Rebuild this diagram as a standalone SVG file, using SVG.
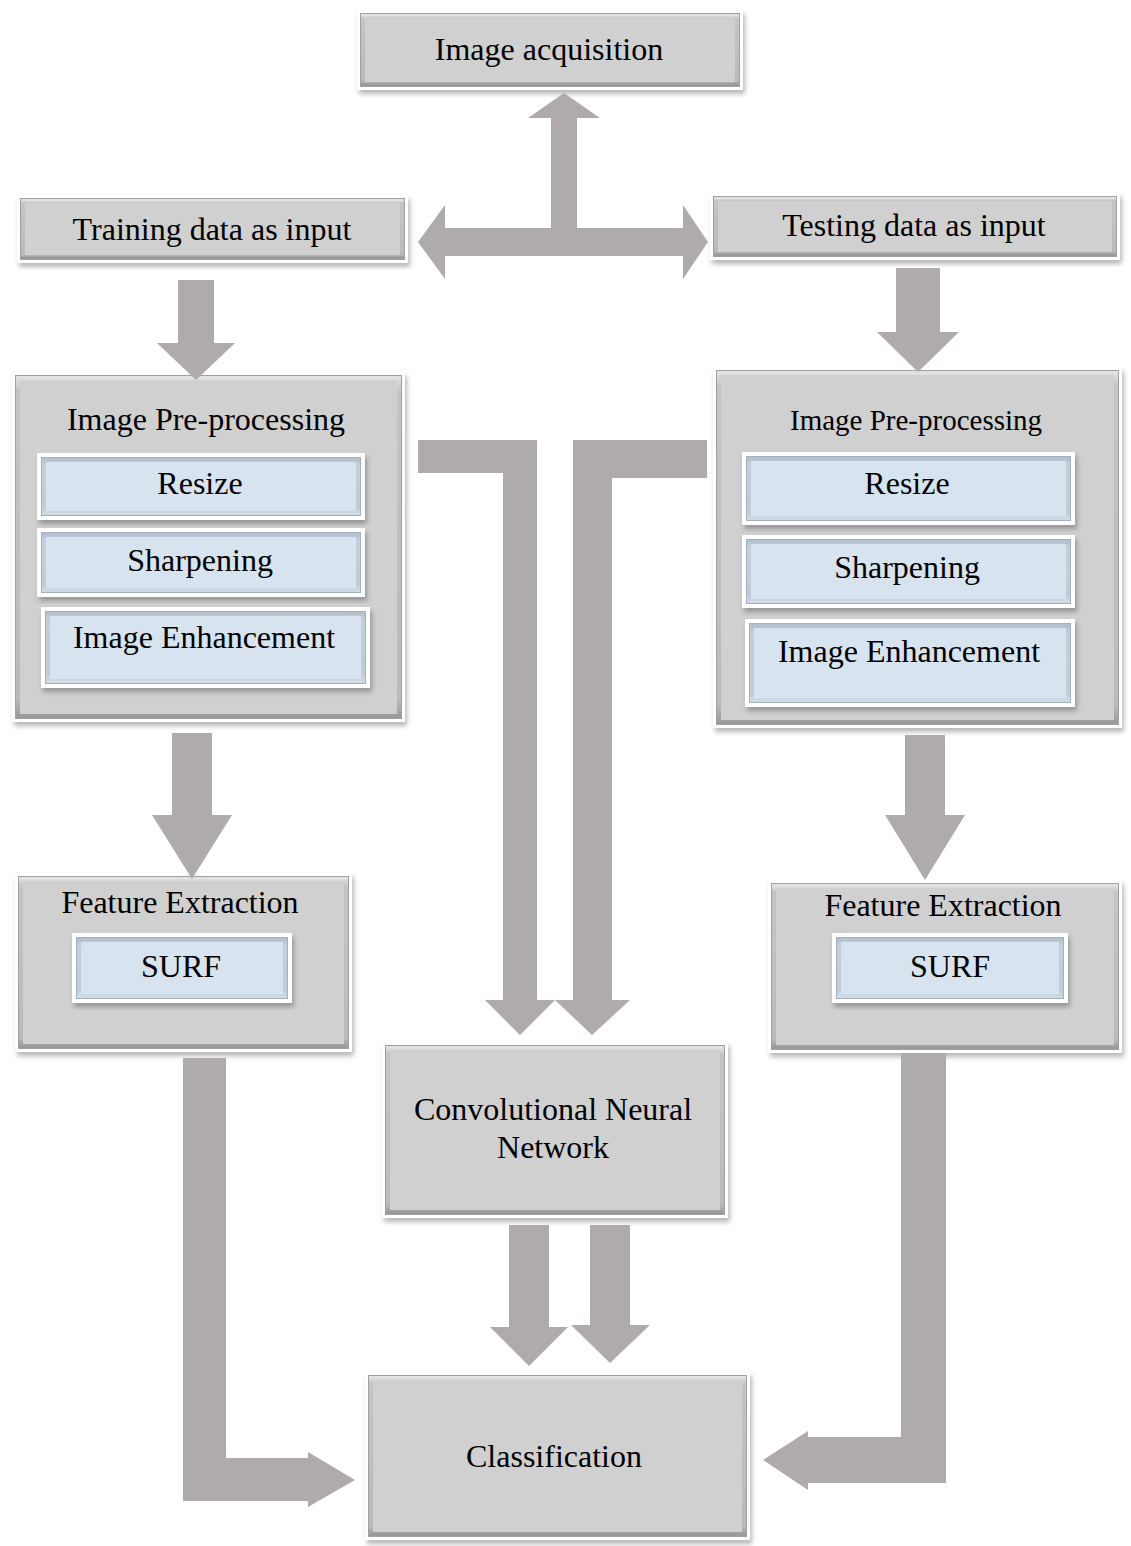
<svg xmlns="http://www.w3.org/2000/svg" width="1131" height="1546" viewBox="0 0 1131 1546">
  <defs>
    <filter id="shadow" x="-5%" y="-5%" width="110%" height="115%">
      <feDropShadow dx="2" dy="4" stdDeviation="2.5" flood-color="#000" flood-opacity="0.28"/>
    </filter>
    <linearGradient id="bevelGray" x1="0" y1="0" x2="0" y2="1">
      <stop offset="0" stop-color="#e2e2e2"/>
      <stop offset="0.04" stop-color="#c4c4c4"/>
      <stop offset="0.95" stop-color="#bababa"/>
      <stop offset="1" stop-color="#9a9a9a"/>
    </linearGradient>
    <linearGradient id="bevelBlue" x1="0" y1="0" x2="0" y2="1">
      <stop offset="0" stop-color="#b4c1ce"/>
      <stop offset="0.1" stop-color="#c3cfdb"/>
      <stop offset="0.9" stop-color="#c0ccd8"/>
      <stop offset="1" stop-color="#cfdae5"/>
    </linearGradient>
    <style>
      .frame { fill: #ffffff; filter: url(#shadow); }
      .face { fill: #d0d0d0; }
      .bevel { fill: none; stroke: url(#bevelGray); stroke-width: 5; }
      .edge { fill: none; stroke: #a0a0a0; stroke-width: 1; }
      .bface { fill: #d7e3ef; }
      .bbevel { fill: none; stroke: url(#bevelBlue); stroke-width: 5; }
      .bedge { fill: none; stroke: #a3b0bd; stroke-width: 1; }
      .label { font-family: "Liberation Serif", "Times New Roman", serif; font-size: 32px; fill: #000; text-anchor: middle; }
      .arrow { fill: #aeabaa; }
    </style>
  </defs>

  <rect width="1131" height="1546" fill="#ffffff"/>

  <!-- nodes -->
  <g id="image-acquisition">
    <rect class="frame" x="357" y="10" width="386" height="80"/>
    <rect class="face" x="360" y="13" width="380" height="74"/>
    <rect class="bevel" x="362.5" y="15.5" width="375" height="69"/>
    <rect class="edge" x="360.5" y="13.5" width="379" height="73"/>
    <text class="label" x="549" y="60">Image acquisition</text>
  </g>

  <g id="training-input">
    <rect class="frame" x="17" y="195" width="391" height="68"/>
    <rect class="face" x="20" y="198" width="385" height="62"/>
    <rect class="bevel" x="22.5" y="200.5" width="380" height="57"/>
    <rect class="edge" x="20.5" y="198.5" width="384" height="61"/>
    <text class="label" x="212" y="240">Training data as input</text>
  </g>

  <g id="testing-input">
    <rect class="frame" x="710" y="193" width="410" height="67"/>
    <rect class="face" x="713" y="196" width="404" height="61"/>
    <rect class="bevel" x="715.5" y="198.5" width="399" height="56"/>
    <rect class="edge" x="713.5" y="196.5" width="403" height="60"/>
    <text class="label" x="914" y="236">Testing data as input</text>
  </g>

  <g id="preprocessing-train">
    <rect class="frame" x="12" y="372" width="393" height="350"/>
    <rect class="face" x="15" y="375" width="387" height="344"/>
    <rect class="bevel" x="17.5" y="377.5" width="382" height="339"/>
    <rect class="edge" x="15.5" y="375.5" width="386" height="343"/>
    <text class="label" x="206" y="430">Image Pre-processing</text>
  </g>
  <g id="resize-train">
    <rect class="frame" x="37" y="453" width="328" height="67"/>
    <rect class="bface" x="41" y="457" width="320" height="59"/>
    <rect class="bbevel" x="43.5" y="459.5" width="315" height="54"/>
    <rect class="bedge" x="41.5" y="457.5" width="319" height="58"/>
    <text class="label" x="200" y="494">Resize</text>
  </g>
  <g id="sharpening-train">
    <rect class="frame" x="37" y="528" width="328" height="69"/>
    <rect class="bface" x="41" y="532" width="320" height="61"/>
    <rect class="bbevel" x="43.5" y="534.5" width="315" height="56"/>
    <rect class="bedge" x="41.5" y="532.5" width="319" height="60"/>
    <text class="label" x="200" y="571">Sharpening</text>
  </g>
  <g id="enhancement-train">
    <rect class="frame" x="41" y="607" width="329" height="81"/>
    <rect class="bface" x="45" y="611" width="321" height="73"/>
    <rect class="bbevel" x="47.5" y="613.5" width="316" height="68"/>
    <rect class="bedge" x="45.5" y="611.5" width="320" height="72"/>
    <text class="label" x="204" y="648">Image Enhancement</text>
  </g>

  <g id="preprocessing-test">
    <rect class="frame" x="713" y="367" width="409" height="361"/>
    <rect class="face" x="716" y="370" width="403" height="355"/>
    <rect class="bevel" x="718.5" y="372.5" width="398" height="350"/>
    <rect class="edge" x="716.5" y="370.5" width="402" height="354"/>
    <text class="label" x="916" y="430" style="font-size:29px">Image Pre-processing</text>
  </g>
  <g id="resize-test">
    <rect class="frame" x="742" y="452" width="333" height="73"/>
    <rect class="bface" x="746" y="456" width="325" height="65"/>
    <rect class="bbevel" x="748.5" y="458.5" width="320" height="60"/>
    <rect class="bedge" x="746.5" y="456.5" width="324" height="64"/>
    <text class="label" x="907" y="494">Resize</text>
  </g>
  <g id="sharpening-test">
    <rect class="frame" x="742" y="535" width="333" height="73"/>
    <rect class="bface" x="746" y="539" width="325" height="65"/>
    <rect class="bbevel" x="748.5" y="541.5" width="320" height="60"/>
    <rect class="bedge" x="746.5" y="539.5" width="324" height="64"/>
    <text class="label" x="907" y="578">Sharpening</text>
  </g>
  <g id="enhancement-test">
    <rect class="frame" x="745" y="619" width="330" height="88"/>
    <rect class="bface" x="749" y="623" width="322" height="80"/>
    <rect class="bbevel" x="751.5" y="625.5" width="317" height="75"/>
    <rect class="bedge" x="749.5" y="623.5" width="321" height="79"/>
    <text class="label" x="909" y="662">Image Enhancement</text>
  </g>

  <g id="features-train">
    <rect class="frame" x="15" y="873" width="337" height="179"/>
    <rect class="face" x="18" y="876" width="331" height="173"/>
    <rect class="bevel" x="20.5" y="878.5" width="326" height="168"/>
    <rect class="edge" x="18.5" y="876.5" width="330" height="172"/>
    <text class="label" x="180" y="913">Feature Extraction</text>
  </g>
  <g id="surf-train">
    <rect class="frame" x="72" y="933" width="220" height="70"/>
    <rect class="bface" x="76" y="937" width="212" height="62"/>
    <rect class="bbevel" x="78.5" y="939.5" width="207" height="57"/>
    <rect class="bedge" x="76.5" y="937.5" width="211" height="61"/>
    <text class="label" x="181" y="977">SURF</text>
  </g>

  <g id="features-test">
    <rect class="frame" x="768" y="880" width="354" height="173"/>
    <rect class="face" x="771" y="883" width="348" height="167"/>
    <rect class="bevel" x="773.5" y="885.5" width="343" height="162"/>
    <rect class="edge" x="771.5" y="883.5" width="347" height="166"/>
    <text class="label" x="943" y="916">Feature Extraction</text>
  </g>
  <g id="surf-test">
    <rect class="frame" x="832" y="933" width="236" height="70"/>
    <rect class="bface" x="836" y="937" width="228" height="62"/>
    <rect class="bbevel" x="838.5" y="939.5" width="223" height="57"/>
    <rect class="bedge" x="836.5" y="937.5" width="227" height="61"/>
    <text class="label" x="950" y="977">SURF</text>
  </g>

  <g id="cnn">
    <rect class="frame" x="382" y="1042" width="346" height="176"/>
    <rect class="face" x="385" y="1045" width="340" height="170"/>
    <rect class="bevel" x="387.5" y="1047.5" width="335" height="165"/>
    <rect class="edge" x="385.5" y="1045.5" width="339" height="169"/>
    <text class="label" x="553" y="1120">Convolutional Neural</text>
    <text class="label" x="553" y="1158">Network</text>
  </g>

  <g id="classification">
    <rect class="frame" x="365" y="1372" width="385" height="168"/>
    <rect class="face" x="368" y="1375" width="379" height="162"/>
    <rect class="bevel" x="370.5" y="1377.5" width="374" height="157"/>
    <rect class="edge" x="368.5" y="1375.5" width="378" height="161"/>
    <text class="label" x="554" y="1467">Classification</text>
  </g>

  <!-- connectors: block arrows -->
  <g id="connectors">
    <polygon class="arrow" points="564,93 600,118 577,118 577,228 683,228 683,205 708,242 683,279 683,256 445,256 445,279 418,242 445,205 445,228 551,228 551,118 528,118"/>
    <polygon class="arrow" points="178,280 214,280 214,343 235,343 196,380 157,343 178,343"/>
    <polygon class="arrow" points="896,268 940,268 940,332 959,332 918,372 877,332 896,332"/>
    <polygon class="arrow" points="172,733 212,733 212,815 232,815 192,879 152,815 172,815"/>
    <polygon class="arrow" points="905,735 945,735 945,815 965,815 925,880 885,815 905,815"/>
    <polygon class="arrow" points="418,440 537,440 537,1000 555,1000 520,1035 485,1000 503,1000 503,473 418,473"/>
    <polygon class="arrow" points="573,440 707,440 707,478 612,478 612,1000 630,1000 592,1035 555,1000 573,1000"/>
    <polygon class="arrow" points="509,1225 549,1225 549,1327 568,1327 529,1366 490,1327 509,1327"/>
    <polygon class="arrow" points="590,1225 630,1225 630,1325 650,1325 610,1363 571,1325 590,1325"/>
    <polygon class="arrow" points="183,1058 226,1058 226,1458 308,1458 308,1452 355,1480 308,1507 308,1501 183,1501"/>
    <polygon class="arrow" points="901,1053 946,1053 946,1483 808,1483 808,1490 763,1460 808,1431 808,1437 901,1437"/>
  </g>
</svg>
